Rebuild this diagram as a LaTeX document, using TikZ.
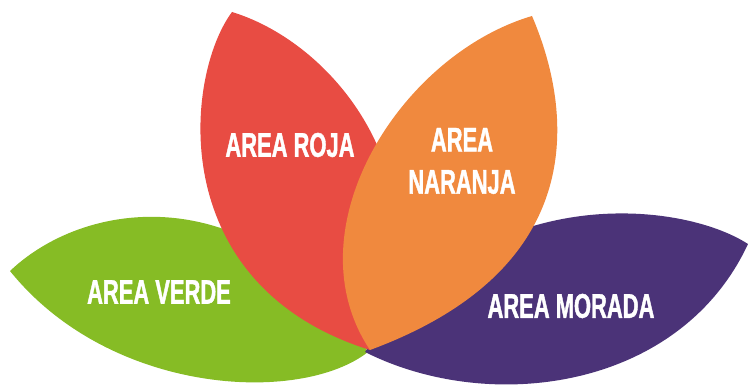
\documentclass[tikz,border=0pt]{standalone}
\usepackage{fontspec}
\usepackage{tikz}
\newfontfamily\fuenterotulo{Liberation Sans Bold}[FakeStretch=0.64, FakeBold=1.2]
\definecolor{verde}{RGB}{134,188,37}
\definecolor{roja}{RGB}{232,76,67}
\definecolor{naranja}{RGB}{240,137,62}
\definecolor{morada}{RGB}{75,51,120}
\tikzset{
    petala/.style={draw=none},
    rotulo/.style={text=white, font=\fuenterotulo\fontsize{19.5}{24}\selectfont, align=center, inner sep=0pt}
}

\begin{document}
\begin{tikzpicture}[x=0.02cm, y=-0.02cm]
    \useasboundingbox (0,0) rectangle (748,385);
    \fill[petala, verde] (10,271) .. controls (90,195) and (260,180) .. (368,352) .. controls (300,405) and (110,395) .. (10,271) -- cycle;
    \fill[petala, morada] (365,352) .. controls (480,180) and (680,200) .. (748,244) .. controls (680,390) and (490,415) .. (365,352) -- cycle;
    \fill[petala, roja] (232,12) .. controls (340,45) and (450,190) .. (370,350) .. controls (163,285) and (185,75) .. (232,12) -- cycle;
    \fill[petala, naranja] (532,16) .. controls (568,100) and (600,265) .. (370,350) .. controls (290,230) and (400,55) .. (532,16) -- cycle;
    \node[rotulo] (roja) at (290,145) {AREA ROJA};
    \node[rotulo] (naranja) at (462,161) {AREA\\NARANJA};
    \node[rotulo] (verde) at (159,292) {AREA VERDE};
    \node[rotulo] (morada) at (571,306) {AREA MORADA};
\end{tikzpicture}
\end{document}
